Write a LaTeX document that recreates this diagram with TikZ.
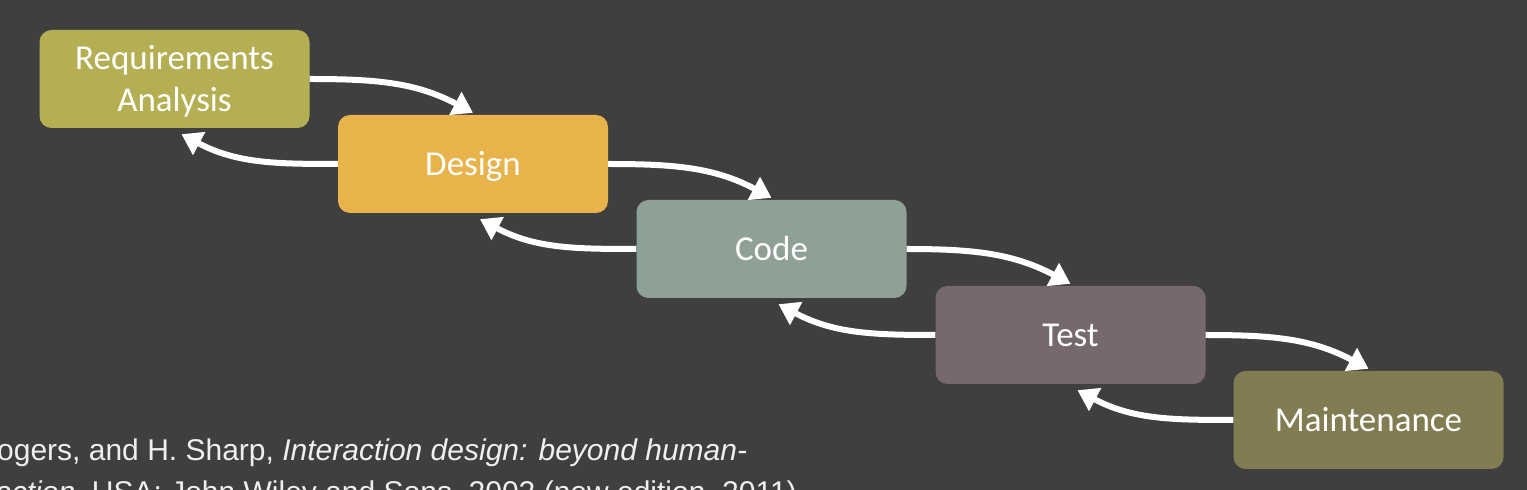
\documentclass[tikz,border=0pt]{standalone}
\usepackage{fontspec}
\newfontfamily\boxfont{Carlito}
\newfontfamily\citefont{Liberation Sans}
\usetikzlibrary{arrows.meta,calc}
\definecolor{bg}{HTML}{3F3F3F}
\definecolor{creq}{HTML}{B4AF53}
\definecolor{cdes}{HTML}{E8B34B}
\definecolor{ccode}{HTML}{8FA197}
\definecolor{ctest}{HTML}{75696F}
\definecolor{cmaint}{HTML}{827C52}
\definecolor{citegray}{HTML}{EFEFEF}
\begin{document}
\begin{tikzpicture}[x=1pt,y=1pt,
  stage/.style={rounded corners=12pt, minimum width=270pt, minimum height=98pt,
    inner sep=0pt, text=white, align=center, text height=30pt, text depth=6pt,
    font=\boxfont\fontsize{35}{42}\selectfont},
  flow/.style={white, line width=6pt,
    -{Triangle[length=20pt,width=25pt]}},
  cite/.style={anchor=base west, inner sep=0pt, text=citegray,
    font=\citefont\fontsize{30}{36}\selectfont}]
\fill[bg] (0,0) rectangle (1527,490);
\clip (0,0) rectangle (1527,490);
\useasboundingbox (0,0) rectangle (1527,490);
\node[stage, fill=creq, text height=71.7pt, text depth=6.3pt] (req)  at (174.5,411) {Requirements\\Analysis};
\node[stage, fill=cdes]   (des)  at (473,326)   {Design};
\node[stage, fill=ccode]  (code) at (771.5,241) {Code};
\node[stage, fill=ctest]  (test) at (1070.5,155){Test};
\node[stage, fill=cmaint] (mnt)  at (1368.5,70) {Maintenance};
\foreach \a/\b in {req/des,des/code,code/test,test/mnt}{
  \draw[flow] (\a.east) to[out=0,in=152] ($(\b.north)+(0,2)$);
  \draw[flow] (\b.west) to[out=180,in=-28] ($(\a.south)+(7,-6)$);
}
\node[cite] (c1) at (-3,29) {ogers, and H. Sharp, \textit{Interaction design: beyond human-}};
\node[cite] (c2) at (-5,-13) {\textit{action}, USA: John Wiley and Sons, 2002 (new edition, 2011)};
\end{tikzpicture}
\end{document}
